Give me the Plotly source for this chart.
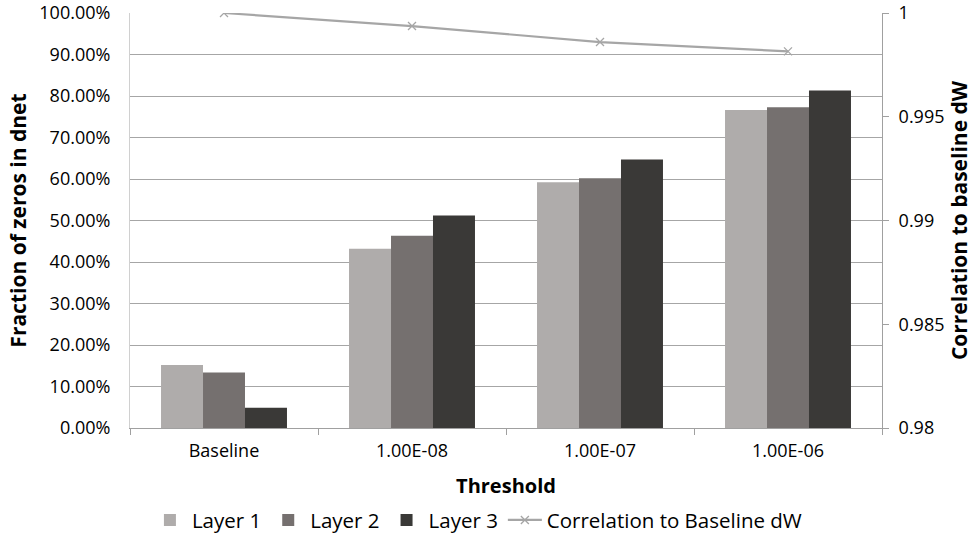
import plotly.graph_objects as go

categories = ["Baseline", "1.00E-08", "1.00E-07", "1.00E-06"]
layer1 = [0.152, 0.432, 0.592, 0.766]
layer2 = [0.134, 0.463, 0.602, 0.773]
layer3 = [0.049, 0.512, 0.647, 0.813]
correlation = [1.0, 0.99937, 0.99860, 0.99815]
left_ticks = [i / 10 for i in range(11)]
right_ticks = [0.98, 0.985, 0.99, 0.995, 1.0]
right_labels = ["0.98", "0.985", "0.99", "0.995", "1"]

FONT = "Open Sans, Liberation Sans, sans-serif"

fig = go.Figure()
fig.add_trace(go.Bar(x=categories, y=layer1, name="Layer 1", marker_color="#AFACAB",
                     marker_line_width=0))
fig.add_trace(go.Bar(x=categories, y=layer2, name="Layer 2", marker_color="#75706F",
                     marker_line_width=0))
fig.add_trace(go.Bar(x=categories, y=layer3, name="Layer 3", marker_color="#3A3937",
                     marker_line_width=0))
fig.add_trace(go.Scatter(x=categories, y=correlation, name="Correlation to Baseline dW",
                         mode="lines+markers", yaxis="y2",
                         line=dict(color="#A6A6A6", width=2.2),
                         marker=dict(symbol="x-thin", size=8, color="#A6A6A6",
                                     line=dict(width=1.3, color="#A6A6A6"))))

fig.update_layout(
    width=980, height=546,
    margin=dict(l=130, r=98, t=13, b=118, autoexpand=False),
    paper_bgcolor="white", plot_bgcolor="white",
    font=dict(family=FONT, size=18, color="#000000"),
    barmode="group", bargap=0.33, bargroupgap=0,
    showlegend=True,
    legend=dict(orientation="h", x=0.462, xanchor="center", y=-0.222, yanchor="middle",
                font=dict(size=20.5), traceorder="normal", itemwidth=34),
    xaxis=dict(
        title=dict(text="<b>Threshold</b>", font=dict(size=20), standoff=18),
        showline=True, linecolor="#A0A0A0", linewidth=1, automargin=False,
        ticks="outside", tickson="boundaries", ticklen=6, tickcolor="#A0A0A0",
        ticklabelstandoff=6,
        showgrid=False, tickfont=dict(size=18),
    ),
    yaxis=dict(
        title=dict(text="<b>Fraction of zeros in dnet</b>", font=dict(size=21), standoff=6),
        range=[0, 1], tickvals=left_ticks, tickformat=".2%", automargin=False,
        showgrid=True, gridcolor="#A6A6A6", gridwidth=1,
        showline=True, linecolor="#D0D0D0", linewidth=1,
        ticks="", zeroline=False, tickfont=dict(size=18),
        ticklabelstandoff=15, ticklabeloverflow="allow",
    ),
    yaxis2=dict(
        title=dict(text="<b>Correlation to baseline dW</b>", font=dict(size=21), standoff=8),
        overlaying="y", side="right", range=[0.98, 1.0], tickvals=right_ticks,
        ticktext=right_labels, automargin=False,
        showgrid=False, showline=True, linecolor="#A0A0A0", linewidth=1,
        ticks="outside", ticklen=6, tickcolor="#A0A0A0", zeroline=False,
        tickfont=dict(size=18), ticklabelstandoff=6, ticklabeloverflow="allow",
    ),
)

fig.write_html("out.html", config={"displayModeBar": False},
               post_script="document.body.style.margin='0';")
